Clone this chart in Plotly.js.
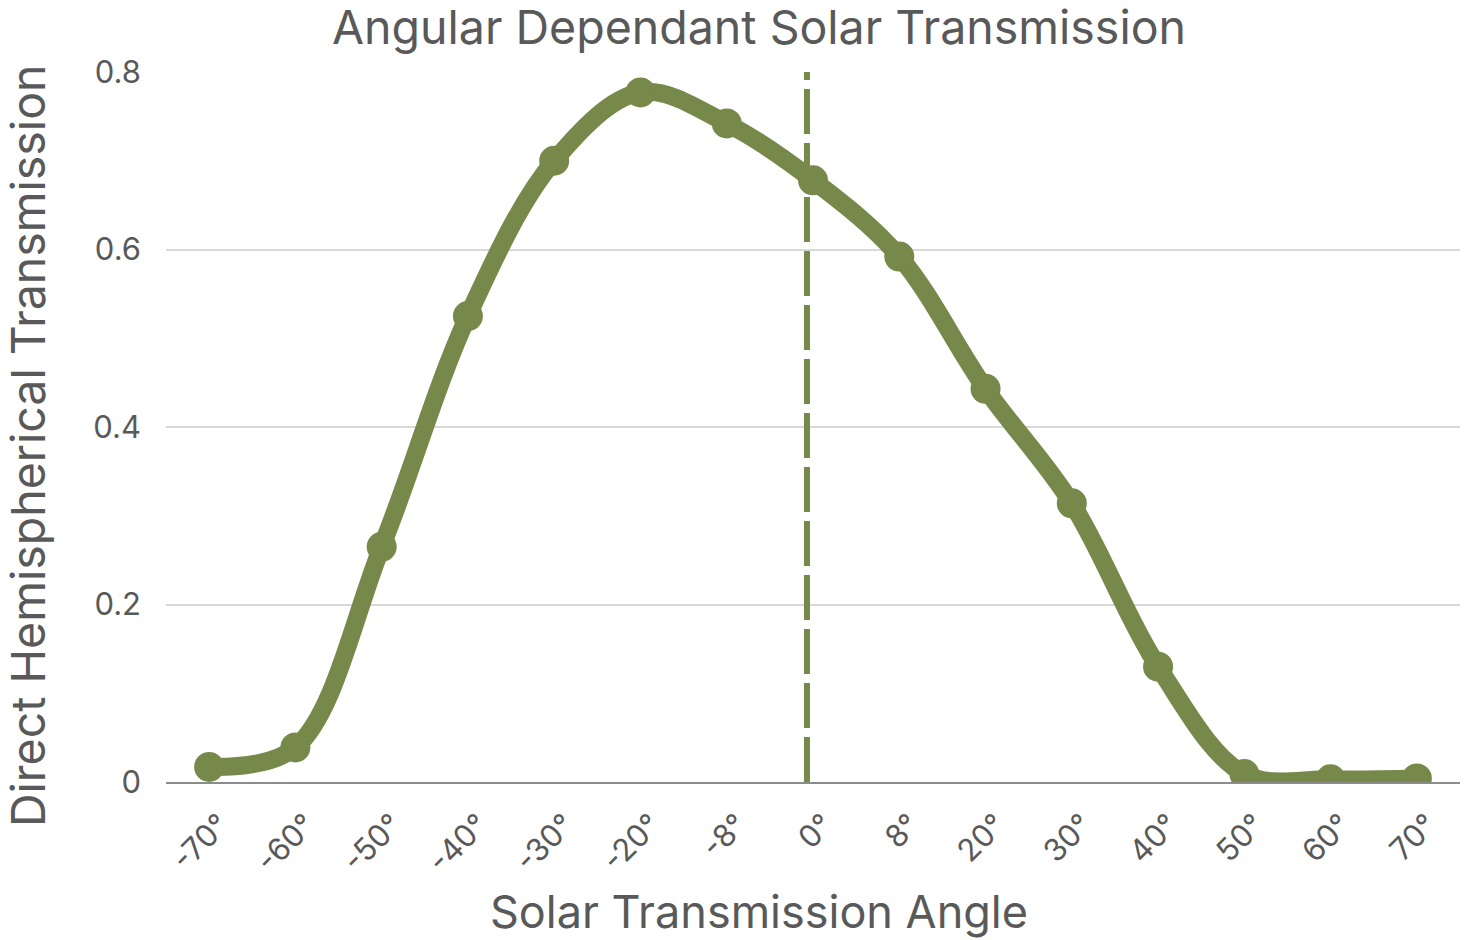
<!DOCTYPE html>
<html>
<head>
<meta charset="utf-8">
<script src="https://cdn.plot.ly/plotly-3.0.1.min.js"></script>
<style>html,body{margin:0;padding:0;background:#fff;}#chart{width:1471px;height:940px;}</style>
</head>
<body>
<div id="chart"></div>
<script>
const angleLabels = ["-70°","-60°","-50°","-40°","-30°","-20°","-8°","0°","8°","20°","30°","40°","50°","60°","70°"];
const transmission = [0.017,0.039,0.265,0.525,0.700,0.777,0.742,0.678,0.592,0.443,0.314,0.130,0.009,0.003,0.004];
const yTicks = [0,0.2,0.4,0.6,0.8];
const yTickText = ["0","0.2","0.4","0.6","0.8"];
const referenceLineAt = 6.93; // category position of dashed normal-incidence line

const green = "#76894a";
const textColor = "#595959";
const font = "Inter, 'Noto Sans', sans-serif";

const trace = {
  x: angleLabels,
  y: transmission,
  type: "scatter",
  mode: "lines+markers",
  line: {color: green, width: 18, shape: "spline", smoothing: 1},
  marker: {color: green, size: 30},
  hoverinfo: "x+y",
  showlegend: false
};

const layout = {
  width: 1471, height: 940,
  margin: {l: 166, r: 11, t: 72, b: 158},
  paper_bgcolor: "#fff", plot_bgcolor: "#fff",
  font: {family: font, color: textColor},
  title: {text: "Angular Dependant Solar Transmission", font: {size: 46.5, color: textColor, family: font},
          x: 0.516, xanchor: "center", y: 0.971, yanchor: "middle", yref: "container"},
  xaxis: {
    type: "category",
    range: [-0.5, 14.5],
    tickangle: -45,
    tickfont: {size: 31, color: textColor},
    showgrid: false,
    showline: true, linecolor: "#8c8c8c", linewidth: 2,
    zeroline: false,
    ticks: "",
    ticklabelstandoff: 10,
    ticklabelshift: 11
  },
  yaxis: {
    range: [0, 0.8],
    tickvals: yTicks, ticktext: yTickText,
    tickfont: {size: 31, color: textColor},
    showgrid: true, gridcolor: "#d9d9d9", gridwidth: 1.5,
    zeroline: false, showline: false, ticks: "",
    ticklabelstandoff: 24
  },
  annotations: [
    {text: "Solar Transmission Angle", xref: "paper", yref: "paper", x: (759-166)/1294, y: -(911-782)/710,
     xanchor: "center", yanchor: "middle", showarrow: false, font: {size: 45, color: textColor}},
    {text: "Direct Hemispherical Transmission", xref: "paper", yref: "paper", x: -(166-28)/1294, y: (782-446)/710,
     xanchor: "center", yanchor: "middle", textangle: -90, showarrow: false, font: {size: 46.5, color: textColor}}
  ],
  shapes: [{
    type: "line", xref: "x", yref: "y",
    x0: referenceLineAt, x1: referenceLineAt, y0: 0, y1: 0.8,
    line: {color: green, width: 6, dash: "45px,9px"}
  }]
};

Plotly.newPlot("chart", [trace], layout, {displayModeBar: false, responsive: false});
</script>
</body>
</html>
